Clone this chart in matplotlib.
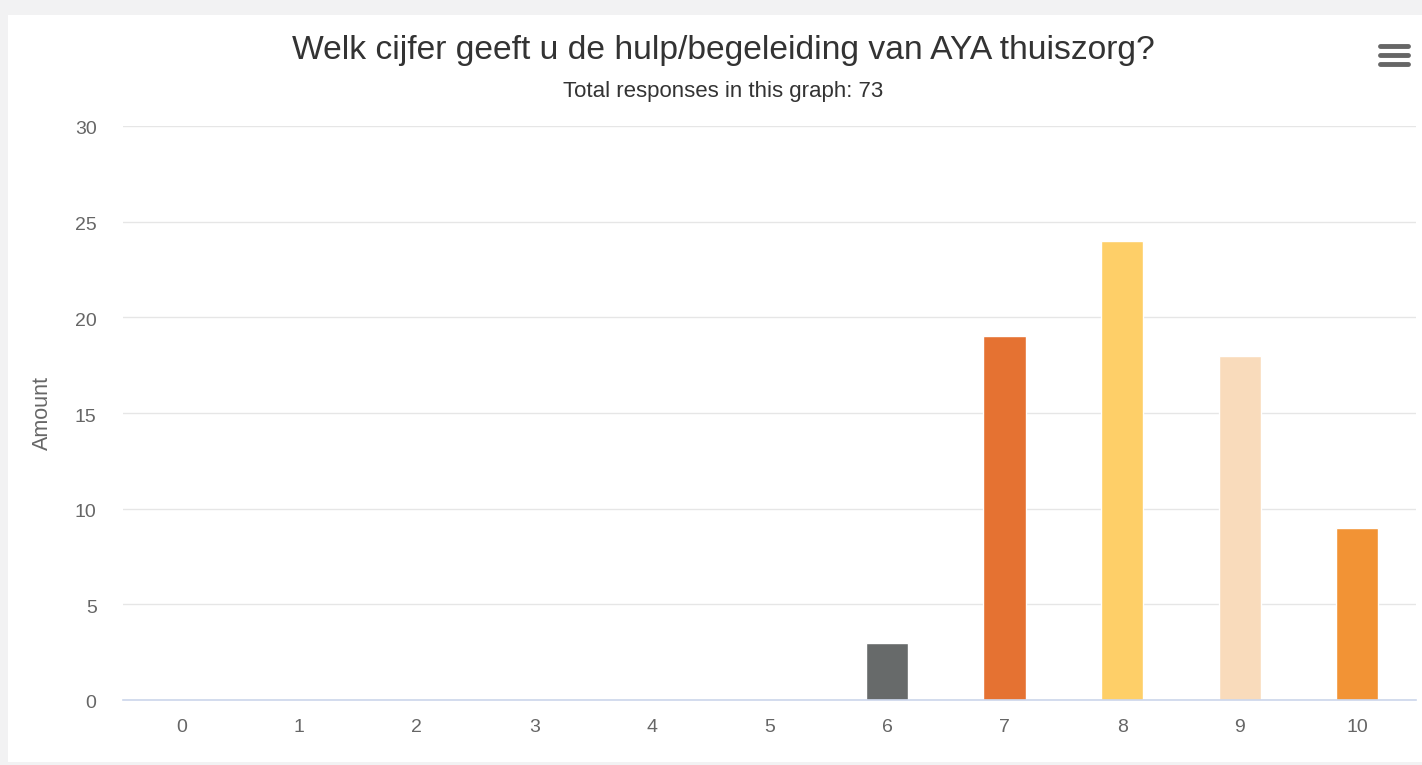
import matplotlib
matplotlib.use("Agg")
import matplotlib.pyplot as plt
import matplotlib.transforms as mtransforms
from matplotlib.patches import Rectangle

categories = ["0", "1", "2", "3", "4", "5", "6", "7", "8", "9", "10"]
values = [0, 0, 0, 0, 0, 0, 3, 19, 24, 18, 9]
bar_colors = ["#676a6a"] * 6 + ["#676a6a", "#e57232", "#fecf68", "#f9dbbb", "#f29335"]
y_ticks = [0, 5, 10, 15, 20, 25, 30]
title = "Welk cijfer geeft u de hulp/begeleiding van AYA thuiszorg?"
subtitle = "Total responses in this graph: 73"
y_label = "Amount"

plt.rcParams['font.family'] = ['Liberation Sans', 'DejaVu Sans']

W, H = 1422, 765
fig = plt.figure(figsize=(W / 100, H / 100), dpi=100)
fig.patch.set_facecolor("#f2f2f3")
# white chart panel
fig.patches.append(Rectangle((8 / W, (H - 762) / H), 1 - 8 / W, (762 - 15) / H,
                             transform=fig.transFigure, facecolor="white", edgecolor="none", zorder=-1))

ax = fig.add_axes([123 / W, (H - 700) / H, (1416 - 123) / W, (700 - 126) / H])
ax.set_zorder(2)
ax.set_facecolor("none")
x = list(range(len(categories)))
ax.bar(x, values, width=0.36, color=bar_colors, edgecolor="white", linewidth=1, zorder=3)
ax.set_xlim(-0.5, len(categories) - 0.5)
ax.set_ylim(0, 30)
ax.set_yticks(y_ticks)
ax.set_xticks(x)
ax.set_xticklabels(categories)
ax.grid(axis="y", color="#e6e6e6", linewidth=1, zorder=0)
for s in ["top", "right", "left"]:
    ax.spines[s].set_visible(False)
ax.spines["bottom"].set_color("#ccd6eb")
ax.spines["bottom"].set_linewidth(1.2)
ax.spines["bottom"].set_zorder(4)
ax.tick_params(axis="both", length=0, colors="#666666", labelsize=14)
ax.tick_params(axis="x", pad=14)
ax.tick_params(axis="y", pad=19)
offset = mtransforms.ScaledTranslation(0, -2 / 100, fig.dpi_scale_trans)
for lbl in ax.get_yticklabels():
    lbl.set_transform(lbl.get_transform() + offset)
ax.set_ylabel(y_label, color="#666666", fontsize=15.5)
ax.yaxis.set_label_coords(-70 / (1416 - 123), 0.5)

fig.text(723 / W, 1 - 50 / H, title, ha="center", va="center", fontsize=24.2, color="#333333")
fig.text(723 / W, 1 - 91 / H, subtitle, ha="center", va="center", fontsize=16, color="#333333")

# hamburger menu icon
for yy in [46, 55, 64]:
    fig.add_artist(plt.Line2D([1380 / W, 1408 / W], [1 - yy / H, 1 - yy / H],
                              transform=fig.transFigure, color="#666666", linewidth=3.5,
                              solid_capstyle="round"))

fig.savefig("out.png", dpi=100, facecolor=fig.get_facecolor())
